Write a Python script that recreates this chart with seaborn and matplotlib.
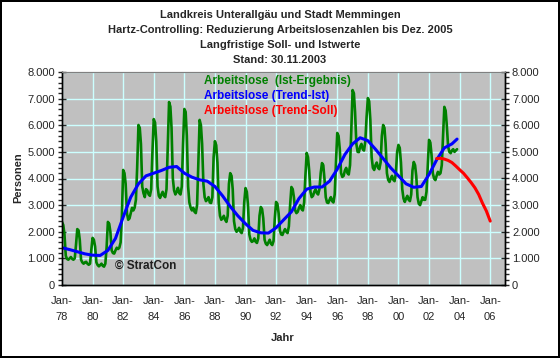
import pandas as pd
import matplotlib
matplotlib.use("Agg")
import matplotlib.pyplot as plt
from matplotlib.ticker import FuncFormatter, MultipleLocator
import seaborn as sns

# Data
# Arbeitslose (Ist-Ergebnis), monthly Jan 1978 - Nov 2003, one row per year
ist_values = [
    2370, 2250, 1900, 1100, 980, 950, 1000, 1050, 980, 950, 1000, 1500,      # 1978
    2100, 2050, 1700, 950, 850, 800, 850, 870, 800, 760, 800, 1300,          # 1979
    1770, 1700, 1450, 850, 750, 700, 750, 800, 720, 690, 800, 1400,          # 1980
    2370, 2300, 2000, 1300, 1200, 1180, 1300, 1400, 1350, 1400, 1600, 2600,  # 1981
    4320, 4200, 3800, 2700, 2450, 2500, 2700, 2900, 2800, 2900, 3200, 4400,  # 1982
    6010, 5900, 5300, 3700, 3450, 3300, 3600, 3550, 3400, 3350, 3600, 5000,  # 1983
    6230, 6100, 5400, 3700, 3350, 3270, 3400, 3500, 3350, 3300, 3600, 5200,  # 1984
    6870, 6700, 5900, 4000, 3550, 3400, 3500, 3650, 3450, 3400, 3700, 5300,  # 1985
    6610, 6500, 5600, 3700, 3100, 2900, 2800, 2900, 2750, 2700, 3000, 4600,  # 1986
    6200, 6000, 5300, 3800, 3300, 3150, 3200, 3300, 3100, 3080, 3300, 4800,  # 1987
    5400, 5250, 4600, 3100, 2600, 2450, 2500, 2600, 2450, 2370, 2600, 3800,  # 1988
    4200, 4100, 3600, 2400, 2100, 2000, 2050, 2150, 2000, 1950, 2150, 3100,  # 1989
    3640, 3500, 3000, 1900, 1700, 1620, 1650, 1750, 1620, 1580, 1750, 2600,  # 1990
    2930, 2850, 2500, 1700, 1550, 1500, 1600, 1700, 1550, 1500, 1650, 2500,  # 1991
    3120, 3050, 2700, 2050, 1900, 1880, 2000, 2100, 2000, 1950, 2200, 3000,  # 1992
    3680, 3600, 3300, 2800, 2700, 2750, 2900, 3000, 2850, 2800, 3100, 4100,  # 1993
    4960, 4800, 4300, 3500, 3300, 3350, 3500, 3600, 3450, 3400, 3600, 4200,  # 1994
    4580, 4500, 4000, 3300, 3100, 3080, 3200, 3300, 3150, 3100, 3400, 4600,  # 1995
    5710, 5600, 5100, 4200, 4060, 4100, 4300, 4400, 4200, 4150, 4500, 5800,  # 1996
    7320, 7200, 6500, 5300, 5000, 4990, 5200, 5300, 5100, 5050, 5400, 6300,  # 1997
    7020, 6900, 6200, 4800, 4400, 4320, 4500, 4600, 4400, 4350, 4600, 5600,  # 1998
    6010, 5900, 5300, 4200, 3950, 3870, 4000, 4100, 3950, 3900, 4200, 5000,  # 1999
    5260, 5150, 4600, 3600, 3250, 3120, 3250, 3350, 3200, 3150, 3400, 4300,  # 2000
    4620, 4500, 4100, 3300, 3050, 3000, 3150, 3300, 3200, 3200, 3500, 4500,  # 2001
    5450, 5350, 4900, 4200, 4000, 3940, 4100, 4250, 4150, 4200, 4500, 5600,  # 2002
    6690, 6550, 6000, 5200, 5000, 4950, 5050, 5100, 5000, 5050, 5100,        # 2003
]

# Arbeitslose (Trend-Ist), half-yearly Jan 1978 - Jul 2003, plus Nov 2003
trend_ist = [
    1400, 1330, 1250, 1170, 1120, 1110, 1300, 1750, 2550, 3300,
    3800, 4100, 4200, 4300, 4420, 4450, 4200, 4050, 3950, 3900,
    3700, 3350, 2950, 2600, 2300, 2050, 1960, 1950, 2150, 2450,
    2750, 3250, 3600, 3680, 3680, 3900, 4350, 4900, 5300, 5530,
    5420, 5100, 4750, 4400, 4100, 3800, 3670, 3700, 4150, 4700,
    5150, 5300,
]
trend_ist_last = ("2003-11-01", 5480)

# Arbeitslose (Trend-Soll), quarterly Jul 2002 - Jan 2006
trend_soll = [4750, 4760, 4730, 4680, 4600, 4470, 4330, 4200,
              4030, 3850, 3650, 3400, 3070, 2780, 2400]

ist_df = pd.DataFrame({
    "date": pd.date_range("1978-01-01", periods=len(ist_values), freq="MS"),
    "value": ist_values,
})
ist_trend_dates = list(pd.date_range("1978-01-01", periods=len(trend_ist), freq="6MS"))
ist_trend_dates.append(pd.Timestamp(trend_ist_last[0]))
trend_df = pd.DataFrame({"date": ist_trend_dates, "value": trend_ist + [trend_ist_last[1]]})
soll_df = pd.DataFrame({
    "date": pd.date_range("2002-07-01", periods=len(trend_soll), freq="QS-JAN"),
    "value": trend_soll,
})

sns.set_style("white")
plt.rcParams["font.family"] = ["Liberation Sans", "DejaVu Sans"]

fig = plt.figure(figsize=(5.6, 3.58), dpi=100)
fig.patch.set_facecolor("white")
fig.patch.set_edgecolor("black")
fig.patch.set_linewidth(1.5)

ax = fig.add_axes([62 / 560, 1 - 285 / 358, (505 - 62) / 560, (285 - 72) / 358])
ax.set_facecolor("#C0C0C0")

sns.lineplot(data=ist_df, x="date", y="value", ax=ax, color="#008000", linewidth=1.9)
sns.lineplot(data=trend_df, x="date", y="value", ax=ax, color="#0000FF", linewidth=2.2)
sns.lineplot(data=soll_df, x="date", y="value", ax=ax, color="#FF0000", linewidth=2.2)

ax.set_xlim(pd.Timestamp("1978-01-01"), pd.Timestamp("2006-12-20"))
ax.set_ylim(0, 8000)

xticks = pd.date_range("1978-01-01", "2006-01-01", freq="24MS")
ax.set_xticks(xticks)
ax.set_xticklabels([f"Jan-\n{d.year % 100:02d}" for d in xticks], fontsize=8, linespacing=1.7)
ax.yaxis.set_major_locator(MultipleLocator(1000))
ax.yaxis.set_minor_locator(MultipleLocator(200))
fmt = FuncFormatter(lambda v, p: f"{int(v):,}".replace(",", "."))
ax.yaxis.set_major_formatter(fmt)
ax.tick_params(axis="y", which="major", direction="inout", length=6, width=1, labelsize=8, pad=2)
ax.tick_params(axis="y", which="minor", direction="out", length=3, width=1)
ax.tick_params(axis="x", which="major", direction="out", length=5, width=1, labelsize=8, pad=3)
ax.grid(True, which="major", color="#CCFFFF", linewidth=1)

ax2 = ax.twinx()
ax2.set_ylim(0, 8000)
ax2.yaxis.set_major_locator(MultipleLocator(1000))
ax2.yaxis.set_minor_locator(MultipleLocator(200))
ax2.yaxis.set_major_formatter(fmt)
ax2.tick_params(axis="y", which="major", direction="inout", length=6, width=1, labelsize=8, pad=2)
ax2.tick_params(axis="y", which="minor", direction="out", length=3, width=1)

for a in (ax, ax2):
    a.spines["top"].set_color("#808080")
    for s in ("left", "right", "bottom"):
        a.spines[s].set_color("black")
        a.spines[s].set_linewidth(1)

ax.set_xlabel("")
ax.set_ylabel("")
ax2.set_ylabel("")

# Legend as coloured text
legend_items = [("Arbeitslose  (Ist-Ergebnis)", "#008000"),
                ("Arbeitslose (Trend-Ist)", "#0000FF"),
                ("Arbeitslose (Trend-Soll)", "#FF0000")]
for i, (label, col) in enumerate(legend_items):
    ax.text(0.32, 0.958 - i * 0.071, label, transform=ax.transAxes, color=col,
            fontsize=8.5, fontweight="bold", va="center", ha="left")

ax.text(0.12, 0.089, "© StratCon", transform=ax.transAxes, fontsize=8.5,
        fontweight="bold", va="center", ha="left", color="#202020")

titles = ["Landkreis Unterallgäu und Stadt Memmingen",
          "Hartz-Controlling: Reduzierung Arbeitslosenzahlen bis Dez. 2005",
          "Langfristige Soll- und Istwerte",
          "Stand: 30.11.2003"]
for i, t in enumerate(titles):
    fig.text(0.5, 1 - (15 + 15 * i) / 358, t, ha="center", va="center",
             fontsize=8, fontweight="bold")

fig.text(18 / 560, 1 - 178 / 358, "Personen", rotation=90, ha="center", va="center",
         fontsize=8, fontweight="bold")
fig.text(283 / 560, 1 - 338 / 358, "Jahr", ha="center", va="center",
         fontsize=8, fontweight="bold")

fig.savefig("out.png", dpi=100)
